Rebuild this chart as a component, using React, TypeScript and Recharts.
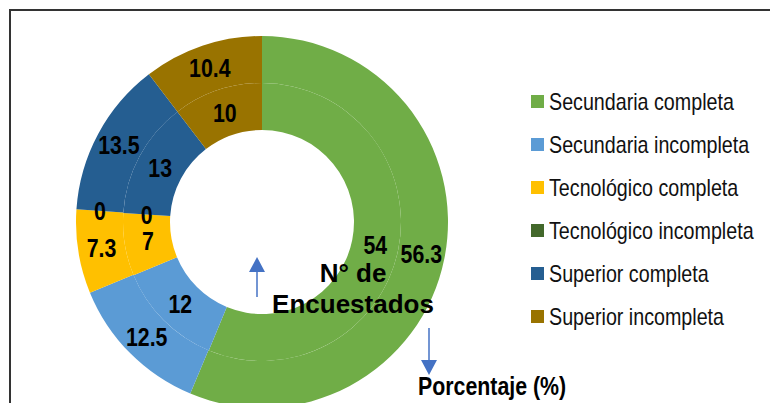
import { PieChart, Pie, Cell, Legend } from "recharts";

const categorias = [
  "Secundaria completa",
  "Secundaria incompleta",
  "Tecnológico completa",
  "Tecnológico incompleta",
  "Superior completa",
  "Superior incompleta",
];
const encuestados = [54, 12, 7, 0, 13, 10];
const porcentaje = [56.3, 12.5, 7.3, 0, 13.5, 10.4];

const COLORES = ["#70AD47", "#5B9BD5", "#FFC000", "#43682B", "#255E91", "#997300"];
const SANS = "'Liberation Sans', Arial, sans-serif";
const NARROW = 0.82; // Arial Narrow is not installed: squeeze Liberation Sans instead
const RAD = Math.PI / 180;

const dataInner = categorias.map((c, i) => ({ name: c, value: encuestados[i] }));
const dataOuter = categorias.map((c, i) => ({ name: c, value: porcentaje[i] }));

function ringLabel(props: any) {
  const { cx, cy, midAngle, innerRadius, outerRadius, value } = props;
  const r = (innerRadius + outerRadius) / 2;
  const x = cx + r * Math.cos(-midAngle * RAD);
  const y = cy + r * Math.sin(-midAngle * RAD);
  return (
    <text
      transform={`translate(${x},${y}) scale(${NARROW},1)`}
      x={0}
      y={0}
      textAnchor="middle"
      dominantBaseline="central"
      fill="#000"
      fontFamily={SANS}
      fontWeight="bold"
      fontSize={26}
    >
      {value}
    </text>
  );
}

function renderLegend(props: any) {
  const seen = new Set<string>();
  const items = (props.payload || [])
    .filter((p: any) => {
      if (seen.has(p.value)) return false;
      seen.add(p.value);
      return true;
    })
    .sort((a: any, b: any) => categorias.indexOf(a.value) - categorias.indexOf(b.value));
  return (
    <ul style={{ listStyle: "none", margin: 0, padding: 0 }}>
      {items.map((p: any) => (
        <li
          key={p.value}
          style={{ display: "flex", alignItems: "center", height: 43, whiteSpace: "nowrap" }}
        >
          <span
            style={{
              display: "inline-block",
              width: 13,
              height: 13,
              background: p.color,
              marginRight: 5,
              flex: "none",
            }}
          />
          <span
            style={{
              display: "inline-block",
              fontFamily: SANS,
              fontSize: 24,
              color: "#111",
              transform: `scaleX(${NARROW})`,
              transformOrigin: "left center",
            }}
          >
            {p.value}
          </span>
        </li>
      ))}
    </ul>
  );
}

export default function App() {
  return (
    <div
      style={{
        position: "fixed",
        left: 0,
        top: 0,
        width: 770,
        height: 403,
        overflow: "hidden",
        background: "#fff",
      }}
    >
      <style>{`.ring .recharts-pie-sectors { filter: drop-shadow(0 0 4px rgba(0,0,0,0.28)); }`}</style>
      <div
        style={{
          position: "absolute",
          left: 9,
          top: 9,
          width: 900,
          height: 600,
          borderLeft: "2px solid #333",
          borderTop: "2px solid #333",
        }}
      />
      <PieChart width={770} height={403} margin={{ top: 0, right: 0, bottom: 0, left: 0 }}>
        <Pie
          className="ring"
          data={dataOuter}
          dataKey="value"
          nameKey="name"
          cx={262}
          cy={222}
          innerRadius={139}
          outerRadius={186}
          startAngle={90}
          endAngle={-270}
          stroke="none"
          label={ringLabel}
          labelLine={false}
          isAnimationActive={false}
        >
          {dataOuter.map((d, i) => (
            <Cell key={d.name} fill={COLORES[i]} />
          ))}
        </Pie>
        <Pie
          data={dataInner}
          dataKey="value"
          nameKey="name"
          cx={262}
          cy={222}
          innerRadius={92}
          outerRadius={139}
          startAngle={90}
          endAngle={-270}
          stroke="none"
          label={ringLabel}
          labelLine={false}
          isAnimationActive={false}
        >
          {dataInner.map((d, i) => (
            <Cell key={d.name} fill={COLORES[i]} />
          ))}
        </Pie>
        <Legend
          layout="vertical"
          align="right"
          verticalAlign="top"
          content={renderLegend}
          wrapperStyle={{ position: "absolute", left: 531, top: 80, width: 239 }}
        />
      </PieChart>
      <div
        style={{
          position: "absolute",
          left: 265,
          top: 258,
          width: 176,
          textAlign: "center",
          fontFamily: SANS,
          fontWeight: "bold",
          fontSize: 26,
          lineHeight: "31px",
          color: "#000",
        }}
      >
        N° de
        <br />
        Encuestados
      </div>
      <div
        style={{
          position: "absolute",
          left: 418,
          top: 371,
          fontFamily: SANS,
          fontWeight: "bold",
          fontSize: 26,
          lineHeight: "30px",
          color: "#000",
          whiteSpace: "nowrap",
          transform: `scaleX(${NARROW})`,
          transformOrigin: "left center",
        }}
      >
        Porcentaje (%)
      </div>
      <svg
        width={770}
        height={403}
        style={{ position: "absolute", left: 0, top: 0, pointerEvents: "none" }}
      >
        <line x1={257} y1={297} x2={257} y2={270} stroke="#4472C4" strokeWidth={1.5} />
        <polygon points="249,272 265,272 257,257" fill="#4472C4" />
        <line x1={429} y1={328} x2={429} y2={362} stroke="#4472C4" strokeWidth={1.5} />
        <polygon points="421,360 437,360 429,375" fill="#4472C4" />
      </svg>
    </div>
  );
}
